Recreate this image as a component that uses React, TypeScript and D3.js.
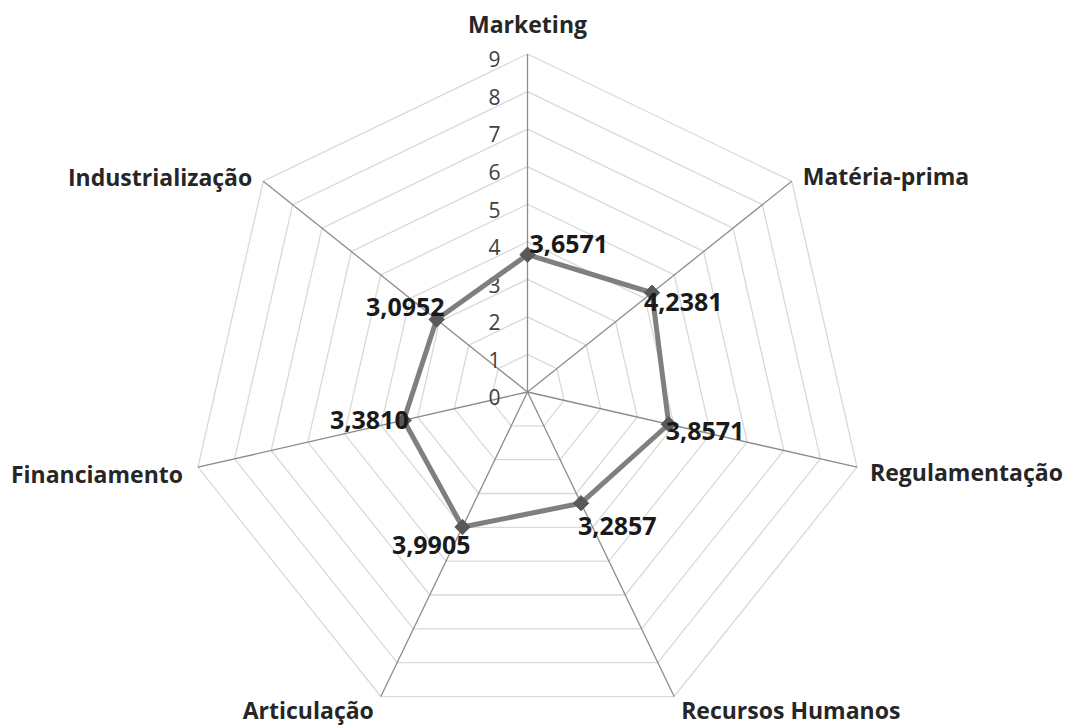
import * as d3 from "d3";
import { useEffect, useRef } from "react";

const categories = [
  "Marketing",
  "Matéria-prima",
  "Regulamentação",
  "Recursos Humanos",
  "Articulação",
  "Financiamento",
  "Industrialização",
];
const values = [3.6571, 4.2381, 3.8571, 3.2857, 3.9905, 3.381, 3.0952];
const ticks = [0, 1, 2, 3, 4, 5, 6, 7, 8, 9];

// label nudges (px) relative to the point / vertex
const valueLabelOffsets: [number, number, string][] = [
  [2, -10, "start"],
  [-8, 9, "start"],
  [-3, 7, "start"],
  [-3, 23, "start"],
  [8, 18, "end"],
  [5, 0, "end"],
  [8, -12, "end"],
];
const catLabelOffsets: [number, number, string][] = [
  [0, -29, "middle"],
  [11, -4, "start"],
  [13, 6, "start"],
  [7, 14, "start"],
  [-7, 14, "end"],
  [-15, 8, "end"],
  [-11, -3, "end"],
];

const WIDTH = 1073;
const HEIGHT = 726;
const CX = 527.5;
const CY = 392;
const RADIUS = 338;
const FONT = "'Open Sans', 'Noto Sans', sans-serif";

export default function App() {
  const ref = useRef<SVGSVGElement>(null);

  useEffect(() => {
    if (!ref.current) return;
    const svg = d3.select(ref.current);
    svg.selectAll("*").remove();

    const n = categories.length;
    const angle = d3.scaleLinear().domain([0, n]).range([0, 2 * Math.PI]);
    const r = d3.scaleLinear().domain([0, 9]).range([0, RADIUS]);
    const pt = (i: number, v: number): [number, number] => [
      Math.sin(angle(i)) * r(v),
      -Math.cos(angle(i)) * r(v),
    ];

    const g = svg.append("g").attr("transform", `translate(${CX},${CY})`);

    // grid rings
    g.selectAll(".ring")
      .data(ticks.slice(1))
      .enter()
      .append("path")
      .attr("class", "ring")
      .attr("d", (t) =>
        d3.line()(d3.range(n + 1).map((i) => pt(i % n, t))) as string
      )
      .attr("fill", "none")
      .attr("stroke", "#d9d9d9")
      .attr("stroke-width", 1.3);

    // spokes
    g.selectAll(".spoke")
      .data(categories)
      .enter()
      .append("line")
      .attr("x1", 0)
      .attr("y1", 0)
      .attr("x2", (_, i) => pt(i, 9)[0])
      .attr("y2", (_, i) => pt(i, 9)[1])
      .attr("stroke", "#8c8c8c")
      .attr("stroke-width", 1.3);

    // tick labels
    g.selectAll(".tick")
      .data(ticks)
      .enter()
      .append("text")
      .attr("x", -27)
      .attr("y", (t) => -r(t) + 6)
      .attr("dy", "0.35em")
      .attr("text-anchor", "end")
      .attr("font-family", FONT)
      .attr("font-size", 21)
      .attr("fill", "#404040")
      .text((t) => t);

    // series line
    g.append("path")
      .attr("d", d3.line()(values.concat(values[0]).map((v, i) => pt(i % n, v))) as string)
      .attr("fill", "none")
      .attr("stroke", "#7f7f7f")
      .attr("stroke-width", 5)
      .attr("stroke-linejoin", "round");

    // markers
    const diamond = d3.symbol().type(d3.symbolDiamond2).size(150);
    g.selectAll(".marker")
      .data(values)
      .enter()
      .append("path")
      .attr("d", diamond() as string)
      .attr("transform", (v, i) => `translate(${pt(i, v)[0]},${pt(i, v)[1]})`)
      .attr("fill", "#595959")
      .attr("stroke", "#595959")
      .attr("stroke-width", 1);

    // value labels
    g.selectAll(".vlabel")
      .data(values)
      .enter()
      .append("text")
      .attr("x", (v, i) => pt(i, v)[0] + valueLabelOffsets[i][0])
      .attr("y", (v, i) => pt(i, v)[1] + valueLabelOffsets[i][1])
      .attr("dy", "0.35em")
      .attr("text-anchor", (_, i) => valueLabelOffsets[i][2])
      .attr("font-family", FONT)
      .attr("font-weight", "bold")
      .attr("font-size", 25)
      .attr("fill", "#1a1a1a")
      .text((v) => v.toFixed(4).replace(".", ","));

    // category labels
    g.selectAll(".clabel")
      .data(categories)
      .enter()
      .append("text")
      .attr("x", (_, i) => pt(i, 9)[0] + catLabelOffsets[i][0])
      .attr("y", (_, i) => pt(i, 9)[1] + catLabelOffsets[i][1])
      .attr("dy", "0.35em")
      .attr("text-anchor", (_, i) => catLabelOffsets[i][2])
      .attr("font-family", FONT)
      .attr("font-weight", "bold")
      .attr("font-size", 23)
      .attr("fill", "#262626")
      .text((c) => c);
  }, []);

  return (
    <svg
      ref={ref}
      width={WIDTH}
      height={HEIGHT}
      style={{ position: "absolute", left: 0, top: 0, background: "#fff" }}
    ></svg>
  );
}
